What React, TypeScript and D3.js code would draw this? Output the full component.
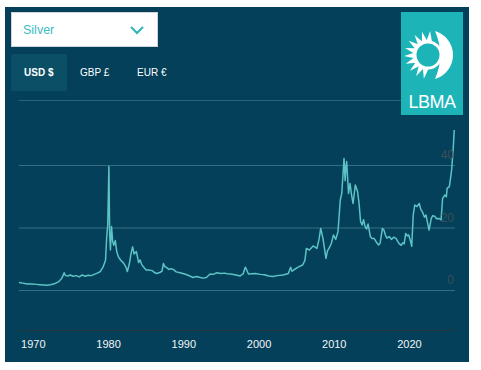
import * as d3 from "d3";

// silver price, USD/oz
const years = [
  1968.1, 1968.6, 1969.2, 1969.8, 1970.4, 1970.9, 1971.4, 1971.8, 1972.3, 1972.9,
  1973.4, 1973.8, 1974.1, 1974.3, 1974.6, 1974.9, 1975.3, 1975.7, 1976.1, 1976.5,
  1976.9, 1977.3, 1977.7, 1978.1, 1978.5, 1978.9, 1979.3, 1979.6, 1979.75, 1979.9,
  1980.05, 1980.15, 1980.25, 1980.4, 1980.55, 1980.7, 1980.9, 1981.1, 1981.3, 1981.6,
  1982.0, 1982.3, 1982.5, 1982.8, 1983.0, 1983.2, 1983.4, 1983.7, 1984.0, 1984.2,
  1984.4, 1984.6, 1985.0, 1985.3, 1985.8, 1986.1, 1986.4, 1986.8, 1987.1, 1987.3,
  1987.5, 1987.7, 1988.0, 1988.3, 1988.6, 1989.0, 1989.5, 1990.0, 1990.4, 1990.8,
  1991.2, 1991.7, 1992.2, 1992.6, 1993.0, 1993.5, 1993.9, 1994.4, 1994.9, 1995.4,
  1995.8, 1996.2, 1996.8, 1997.5, 1997.9, 1998.1, 1998.2, 1998.6, 1999.0, 1999.5,
  2000.2, 2000.7, 2001.3, 2001.9, 2002.4, 2003.2, 2003.9, 2004.2, 2004.4, 2004.6,
  2005.2, 2005.8, 2006.1, 2006.3, 2006.7, 2007.2, 2007.7, 2008.0, 2008.2, 2008.5,
  2008.9, 2009.1, 2009.3, 2009.6, 2009.9, 2010.2, 2010.5, 2010.8, 2011.0, 2011.3,
  2011.45, 2011.55, 2011.65, 2011.9, 2012.1, 2012.3, 2012.5, 2012.8, 2013.1, 2013.3,
  2013.5, 2013.7, 2013.9, 2014.1, 2014.3, 2014.5, 2014.8, 2015.0, 2015.3, 2015.6,
  2015.9, 2016.1, 2016.4, 2016.6, 2016.8, 2017.0, 2017.3, 2017.6, 2017.9, 2018.2,
  2018.6, 2018.9, 2019.1, 2019.3, 2019.5, 2019.7, 2019.9, 2020.2, 2020.3, 2020.5,
  2020.7, 2021.0, 2021.3, 2021.5, 2021.7, 2022.0, 2022.2, 2022.4, 2022.6, 2022.9,
  2023.1, 2023.4, 2023.6, 2023.9, 2024.2, 2024.4, 2024.7, 2024.9, 2025.0, 2025.3,
  2025.5, 2025.6, 2025.8, 2025.95,
];
const prices = [
  2.4, 2.2, 1.9, 1.9, 1.8, 1.7, 1.6, 1.5, 1.7, 2.1,
  2.7, 3.8, 5.5, 4.6, 4.5, 4.8, 4.4, 4.6, 4.2, 4.8,
  4.4, 4.7, 4.6, 5.0, 5.4, 5.9, 7.5, 9.5, 16.6, 21,
  39.5, 18, 12.8, 20.3, 15.5, 14.3, 15.8, 12.2, 10.7, 9.6,
  8.6, 7.4, 5.9, 8.8, 11.8, 13.8, 11.5, 12.3, 8.8, 9.6,
  8.2, 7.5, 6.4, 6.4, 6.2, 5.6, 5.3, 5.6, 6.0, 8.5,
  7.4, 7.3, 6.6, 6.8, 6.6, 5.8, 5.5, 5.2, 4.9, 4.5,
  4.0, 4.3, 4.0, 3.8, 4.0, 5.1, 5.0, 5.5, 5.3, 5.4,
  5.2, 5.1, 4.9, 4.5, 5.2, 6.8, 7.3, 5.1, 5.2, 5.3,
  5.0, 4.9, 4.5, 4.3, 4.6, 4.8, 5.3, 7.3, 6.0, 6.4,
  7.3, 8.0, 9.5, 13.3, 12.8, 14.1, 13.3, 16.5, 19.7, 16.5,
  10.1, 12.5, 13.3, 14.8, 17.6, 16.2, 18.7, 28.8, 30.9, 42.1,
  35, 39.5, 41.1, 30.9, 34.1, 30.4, 27.7, 33.6, 31.5, 27.7,
  21.9, 20.8, 22.5, 20.3, 19.5, 21.1, 17.1, 16.5, 16.5, 15.3,
  14.4, 15.0, 19.7, 19.2, 17.6, 16.6, 17.1, 16.2, 16.9, 16.5,
  14.9, 14.3, 15.1, 14.8, 18.1, 17.3, 17.6, 15.1, 14.0, 24.0,
  27.2, 26.7, 27.7, 25.8, 25.1, 23.3, 24.0, 21.5, 19.2, 22.9,
  23.8, 23.5, 22.8, 22.9, 22.4, 29.3, 30.4, 29.8, 32.5, 33.1,
  36.5, 38.4, 44.8, 51.2,
];
const yTicks = [0, 20, 40];
const xTicks = [1970, 1980, 1990, 2000, 2010, 2020];
const currencies = ["USD $", "GBP £", "EUR €"];

const W = 481;
const H = 370;
const bg = "#05405a";
const lineColor = "#5cc3c6";
const font = "'Liberation Sans', Arial, sans-serif";

const Logo = ({ x, y }: { x: number; y: number }) => {
  const cx = x + 27;
  const cy = y + 43;
  // spiky rays round the left side of the sun
  const rays = d3.range(10).map((i) => {
    const a = (Math.PI * 100) / 180 + (i * Math.PI * 175) / 180 / 9;
    const r0 = 14;
    const r1 = 24;
    const w = 0.2;
    return [
      [cx + r0 * Math.cos(a - w), cy + r0 * Math.sin(a - w)],
      [cx + r1 * Math.cos(a), cy + r1 * Math.sin(a)],
      [cx + r0 * Math.cos(a + w), cy + r0 * Math.sin(a + w)],
    ];
  });
  return (
    <g>
      <rect x={x} y={y} width={62} height={103} fill="#1db4b8" />
      {rays.map((p, i) => (
        <polygon key={i} points={p.map((q) => q.join(",")).join(" ")} fill="#fff" />
      ))}
      <circle cx={cx} cy={cy} r={13} fill="none" stroke="#fff" strokeWidth={3} />
      <path
        d={`M${cx + 7},${cy - 24} A25,25 0 0 1 ${cx + 7},${cy + 24} A60,60 0 0 0 ${cx + 7},${cy - 24}Z`}
        fill="#fff"
      />
      <text x={x + 31} y={y + 96} fill="#fff" fontSize={18} textAnchor="middle" fontFamily={font} letterSpacing={-0.5}>
        LBMA
      </text>
    </g>
  );
};

export default function App() {
  const x = d3.scaleLinear().domain([1968.1, 2026.05]).range([19, 455]);
  const y = d3.scaleLinear().domain([0, 40]).range([290, 165]);
  const data = years.map((yr, i) => [yr, prices[i]] as [number, number]);
  const line = d3
    .line<[number, number]>()
    .x((d) => x(d[0]))
    .y((d) => y(d[1]));

  return (
    <svg
      width={W}
      height={H}
      style={{ position: "absolute", left: 0, top: 0, background: "#fff" }}
    >
      <rect x={5} y={7} width={464} height={355} fill={bg} />

      {/* dropdown */}
      <rect x={11.5} y={12.5} width={146} height={34} fill="#fff" stroke="#d0d6d8" />
      <text x={23} y={34} fontSize={12.5} fill="#3dbdc3" fontFamily={font}>
        Silver
      </text>
      <path d="M131,27 L137,33 L143,27" fill="none" stroke="#2fb4bb" strokeWidth={2} />

      {/* currency tabs */}
      <rect x={11} y={54} width={56} height={37} rx={1.5} fill="#0b4f66" />
      {currencies.map((c, i) => (
        <text
          key={c}
          x={[24, 80, 137][i]}
          y={76}
          fontSize={10}
          fill="#fff"
          fontWeight={i === 0 ? "bold" : "normal"}
          fontFamily={font}
        >
          {c}
        </text>
      ))}
      <line x1={19} x2={401} y1={100.5} y2={100.5} stroke="#2a6476" strokeWidth={1} />

      <Logo x={401} y={12} />

      {/* grid */}
      {yTicks.map((t) => (
        <line key={t} x1={19} x2={455} y1={y(t) + 0.5} y2={y(t) + 0.5} stroke="#336f80" strokeWidth={1} />
      ))}

      <path d={line(data) ?? ""} fill="none" stroke={lineColor} strokeWidth={1.5} strokeLinejoin="round" />

      {yTicks.map((t) => (
        <text
          key={t}
          x={454}
          y={y(t) - 6}
          textAnchor="end"
          fontSize={12}
          fill="#3a5058"
          fontFamily={font}
        >
          {t}
        </text>
      ))}

      {/* x axis */}
      <line x1={19} x2={455} y1={330.5} y2={330.5} stroke="#22343c" strokeWidth={1} />
      {xTicks.map((t) => (
        <g key={t} transform={`translate(${x(t)},330)`}>
          <line y1={0} y2={3} stroke="#22343c" />
          <text y={18} textAnchor="middle" fontSize={11} fill="#f2f6f7" fontFamily={font}>
            {t}
          </text>
        </g>
      ))}
    </svg>
  );
}
